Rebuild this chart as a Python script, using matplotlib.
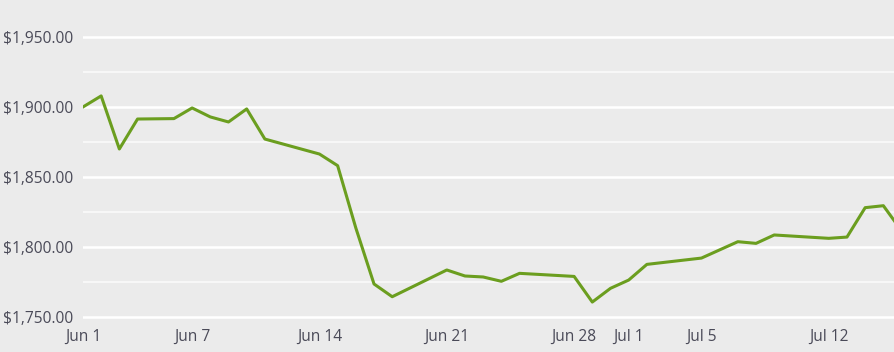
import matplotlib
matplotlib.use("Agg")
import matplotlib.pyplot as plt
from matplotlib.ticker import FuncFormatter, MultipleLocator, FixedLocator
import pandas as pd

# price series
dates = ["2021-06-01", "2021-06-02", "2021-06-03", "2021-06-04", "2021-06-06",
         "2021-06-07", "2021-06-08", "2021-06-09", "2021-06-10", "2021-06-11",
         "2021-06-14", "2021-06-15", "2021-06-16", "2021-06-17", "2021-06-18",
         "2021-06-21", "2021-06-22", "2021-06-23", "2021-06-24", "2021-06-25",
         "2021-06-28", "2021-06-29", "2021-06-30", "2021-07-01", "2021-07-02",
         "2021-07-05", "2021-07-07", "2021-07-08", "2021-07-09", "2021-07-12",
         "2021-07-13", "2021-07-14", "2021-07-15", "2021-07-16"]
prices = [1900.0, 1907.9, 1870.0, 1891.4, 1891.7,
          1899.3, 1892.9, 1889.3, 1898.6, 1877.1,
          1866.4, 1858.1, 1813.6, 1773.6, 1764.5,
          1783.6, 1779.3, 1778.6, 1775.5, 1781.2,
          1779.0, 1760.7, 1770.5, 1776.4, 1787.6,
          1792.1, 1803.8, 1802.6, 1808.6, 1806.2,
          1807.1, 1828.1, 1829.5, 1811.6]
tick_dates = ["2021-06-01", "2021-06-07", "2021-06-14", "2021-06-21",
              "2021-06-28", "2021-07-01", "2021-07-05", "2021-07-12"]
tick_labels = ["Jun 1", "Jun 7", "Jun 14", "Jun 21", "Jun 28", "Jul 1", "Jul 5", "Jul 12"]
minor_levels = [1775, 1825, 1875, 1925]

bg = "#ebebeb"
text_col = "#4a4a58"

plt.rcParams["font.family"] = ["Open Sans", "DejaVu Sans"]

fig = plt.figure(figsize=(8.95, 3.52), dpi=100, facecolor=bg)
ax = fig.add_axes([0.0927, 0.091, 0.9073, 0.909])
ax.set_facecolor(bg)

x = pd.to_datetime(dates)
ax.plot(x, prices, color="#6b9e1f", linewidth=2.2, zorder=3)

ax.set_xlim(pd.Timestamp("2021-06-01"), pd.Timestamp("2021-06-01") + pd.Timedelta(days=44.64))
ax.set_ylim(1747.9, 1976.4)

ax.yaxis.set_major_locator(MultipleLocator(50))
ax.yaxis.set_minor_locator(FixedLocator(minor_levels))
ax.yaxis.set_major_formatter(FuncFormatter(lambda v, p: f"${v:,.2f}"))
ax.grid(axis="y", which="major", color="white", linewidth=1.8)
ax.grid(axis="y", which="minor", color="#f7f7f7", linewidth=1.5)
ax.set_axisbelow(True)

ax.set_xticks(pd.to_datetime(tick_dates))
ax.set_xticklabels(tick_labels)

for s in ax.spines.values():
    s.set_visible(False)
ax.tick_params(axis="both", which="both", length=0, labelsize=11.2, colors=text_col)
ax.tick_params(axis="y", pad=7)
ax.tick_params(axis="x", pad=6.5)

fig.savefig("out.png", dpi=100, facecolor=bg)
